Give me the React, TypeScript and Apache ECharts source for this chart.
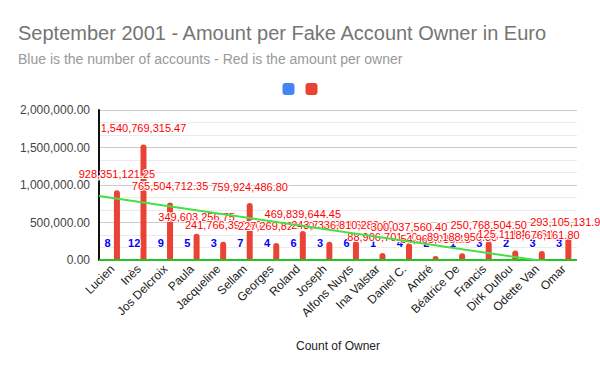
import React, { useEffect, useRef } from "react";
import * as echarts from "echarts";

const categories = [
  "Lucien", "Inès", "Jos Delcroix", "Paula", "Jacqueline", "Sellam", "Georges", "Roland", "Joseph",
  "Alfons Nuyts", "Ina Valstar", "Daniel C.", "André", "Béatrice De", "Francis", "Dirk Duflou", "Odette Van", "Omar",
];
// Blue: number of accounts per owner
const accountCounts = [8, 12, 9, 5, 3, 7, 4, 6, 3, 6, 1, 4, 2, 1, 3, 2, 3, 3];
// Red: bar heights
const amountBars = [
  928351, 1540769, 765505, 349603, 241766, 759924, 227270, 387000, 243733,
  249000, 92000, 223000, 54968, 89189, 250769, 125112, 118676, 293105,
];
// Red annotation texts shown above the bars
const amountLabels = [
  928351121.25, 1540769315.47, 765504712.35, 349603256.75, 241766392.1, 759924486.8, 227269823.4,
  469839644.45, 243732923.6, 336810283.1, 88906701.2, 300037560.4, 54968035.15, 89188950.35,
  250768504.5, 125118412.6, 118676161.8, 293105131.9,
];
// Trendline end points (category position, value)
const amountTrendX = [-0.5, 17.5];
const amountTrendY = [853000, -81000];
const countTrendX = [-0.5, 17.5];
const countTrendY = [0, 0];
const yTicks = { min: 0, max: 2000000, interval: 500000 };

const FONT = 'Arial, "Liberation Sans", sans-serif';
const fmt2 = (v: number) =>
  v.toLocaleString("en-US", { minimumFractionDigits: 2, maximumFractionDigits: 2 });

export default function App() {
  const ref = useRef<HTMLDivElement>(null);
  useEffect(() => {
    if (!ref.current) return;
    const chart = echarts.init(ref.current, undefined, { renderer: "svg" });
    chart.setOption({
      animation: false,
      backgroundColor: "#ffffff",
      textStyle: { fontFamily: FONT },
      title: {
        text: "September 2001 - Amount per Fake Account Owner in Euro",
        subtext: "Blue is the number of accounts - Red is the amount per owner",
        left: 13,
        top: 18,
        itemGap: 9,
        textStyle: { fontFamily: FONT, fontSize: 20, fontWeight: "normal", color: "#757575" },
        subtextStyle: { fontFamily: FONT, fontSize: 14, color: "#999999" },
      },
      legend: {
        data: ["Number of accounts", "Amount per owner"],
        left: "center",
        top: 78,
        itemWidth: 12,
        itemHeight: 12,
        itemGap: 11,
        icon: "roundRect",
        formatter: () => "",
      },
      grid: { left: 99, right: 23, top: 110, bottom: 111 },
      xAxis: [
        {
          type: "category",
          data: categories,
          name: "Count of Owner",
          nameLocation: "middle",
          nameGap: 80,
          nameTextStyle: { fontFamily: FONT, fontSize: 12, color: "#222222" },
          axisLine: { show: false },
          axisTick: { show: false },
          axisLabel: { rotate: 45, fontSize: 12, color: "#222222", margin: 7, interval: 0, fontFamily: FONT },
        },
        { type: "value", min: -0.5, max: 17.5, show: false },
      ],
      yAxis: {
        type: "value",
        position: "left",
        min: yTicks.min,
        max: yTicks.max,
        interval: yTicks.interval,
        axisLine: { show: true, onZero: false, lineStyle: { color: "#111111", width: 2 } },
        axisTick: { show: false },
        axisLabel: { fontSize: 12, color: "#444444", margin: 9, formatter: (v: number) => fmt2(v), fontFamily: FONT },
        splitLine: { show: true, lineStyle: { color: "#cccccc" } },
        minorTick: { show: false, splitNumber: 3 },
        minorSplitLine: { show: true, lineStyle: { color: "#ebebeb" } },
      },
      series: [
        {
          name: "Number of accounts",
          type: "bar",
          data: accountCounts,
          barWidth: 6,
          barGap: "55%",
          itemStyle: { color: "#4285f4", borderRadius: [3, 3, 0, 0] },
          label: {
            show: true,
            position: "top",
            distance: 11,
            fontSize: 11,
            fontWeight: "bold",
            color: "#0000ff",
            fontFamily: FONT,
            textBorderColor: "#ffffff",
            textBorderWidth: 2,
          },
        },
        {
          name: "Amount per owner",
          type: "bar",
          data: amountBars,
          barWidth: 6,
          itemStyle: { color: "#ea4335", borderRadius: [3, 3, 0, 0] },
          label: {
            show: true,
            position: "top",
            distance: 11,
            fontSize: 11,
            color: "#ff0000",
            fontFamily: FONT,
            textBorderColor: "#ffffff",
            textBorderWidth: 2,
            formatter: (p: any) => fmt2(amountLabels[p.dataIndex]),
          },
        },
        {
          name: "Trend (Number of accounts)",
          type: "line",
          xAxisIndex: 1,
          data: countTrendX.map((x, i) => [x, countTrendY[i]]),
          symbol: "none",
          lineStyle: { color: "#22c322", width: 2 },
          silent: true,
        },
        {
          name: "Trend (Amount per owner)",
          type: "line",
          xAxisIndex: 1,
          data: amountTrendX.map((x, i) => [x, amountTrendY[i]]),
          symbol: "none",
          lineStyle: { color: "#44e044", width: 2 },
          silent: true,
        },
      ],
    });
    return () => chart.dispose();
  }, []);
  return <div ref={ref} style={{ width: 600, height: 371, position: "absolute", left: 0, top: 0 }} />;
}
